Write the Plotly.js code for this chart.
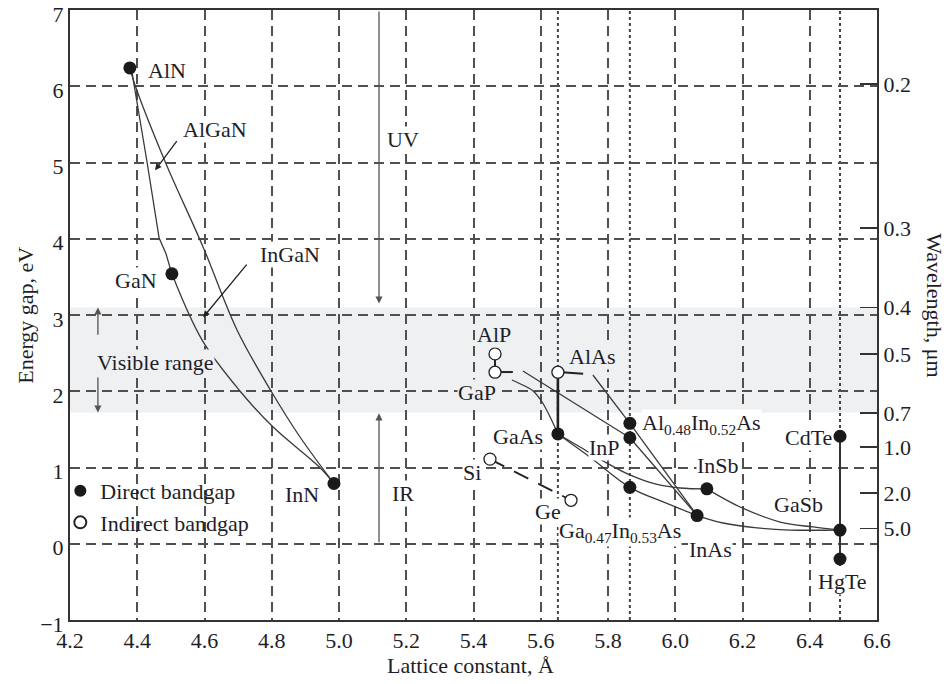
<!DOCTYPE html>
<html><head><meta charset="utf-8">
<script src="https://cdn.plot.ly/plotly-3.0.1.min.js"></script>
<style>body{margin:0;background:#fff}#chart{width:946px;height:684px}</style>
</head><body><div id="chart"></div>
<script>
// ---- data (lattice constant in Å, energy gap in eV) ----
const directNames = ['AlN','GaN','InN','GaAs','Al0.48In0.52As','InP','Ga0.47In0.53As','InAs','InSb','CdTe','GaSb','HgTe'];
const directA = [4.378, 4.503, 4.985, 5.651, 5.865, 5.865, 5.865, 6.065, 6.094, 6.490, 6.490, 6.490];
const directE = [6.24, 3.54, 0.79, 1.44, 1.58, 1.39, 0.74, 0.37, 0.72, 1.41, 0.18, -0.20];

const indirectNames = ['AlP','GaP','AlAs','Si','Ge'];
const indirectA = [5.464, 5.464, 5.651, 5.449, 5.690];
const indirectE = [2.49, 2.25, 2.25, 1.11, 0.57];

// alloy curves
const alganA = [4.378, 4.384, 4.429, 4.465, 4.485, 4.503];
const alganE = [6.24, 6.19, 5.01, 4.01, 3.81, 3.54];
const alinnA = [4.378, 4.393, 4.483, 4.596, 4.697, 4.801, 4.884, 4.985];
const alinnE = [6.24, 6.02, 5.01, 3.89, 2.80, 1.98, 1.40, 0.79];
const inganA = [4.503, 4.593, 4.706, 4.804, 4.943, 4.985];
const inganE = [3.54, 2.67, 2.00, 1.53, 1.00, 0.79];
const gapInpA = [5.547, 5.865];
const gapInpE = [2.266, 1.39];
const gapGaasA = [5.514, 5.574, 5.604, 5.628, 5.651];
const gapGaasE = [2.148, 2.016, 1.859, 1.662, 1.44];
const alasAlinasA = [5.755, 5.865];
const alasAlinasE = [2.213, 1.58];
const alinasInasA = [5.865, 6.065];
const alinasInasE = [1.58, 0.37];
const inpInasA = [5.865, 6.065];
const inpInasE = [1.39, 0.37];
const gaasInsbA = [5.651, 5.717, 5.791, 5.865, 5.940, 6.014, 6.094];
const gaasInsbE = [1.44, 1.269, 1.072, 0.902, 0.784, 0.731, 0.72];
const gaasInasA = [5.651, 5.746, 5.865, 5.964, 6.065];
const gaasInasE = [1.44, 1.138, 0.74, 0.548, 0.37];
const insbGasbA = [6.094, 6.193, 6.312, 6.410, 6.490];
const insbGasbE = [0.72, 0.482, 0.285, 0.22, 0.18];
const inasGasbA = [6.065, 6.142, 6.243, 6.341, 6.490];
const inasGasbE = [0.37, 0.272, 0.207, 0.18, 0.18];
const cdteHgteA = [6.490, 6.490];
const cdteHgteE = [1.41, -0.20];
const alasGaasA = [5.651, 5.651];
const alasGaasE = [2.25, 1.44];
const alpGapA = [5.464, 5.464];
const alpGapE = [2.49, 2.25];
const gapStubA = [5.464, 5.517];
const gapStubE = [2.252, 2.252];
const alasStubA = [5.651, 5.726];
const alasStubE = [2.253, 2.23];
const siGeA = [5.449, 5.690];
const siGeE = [1.11, 0.57];

// reference lattice constants (dotted verticals) and visible band
const refLattice = [5.651, 5.865, 6.490];
const visibleBand = [1.72, 3.10];

// right axis: wavelength labels and the energies where they sit
const waveLabels = ['0.2','0.3','0.4','0.5','0.7','1.0','2.0','5.0'];
const waveE = [6.03, 4.14, 3.10, 2.49, 1.715, 1.27, 0.665, 0.20];

// ---- drawing ----
const FONT = 'Liberation Serif, Times New Roman, serif';
const INK = '#1e1e28';
const FS = 22;
const BAND = '#eef0f2';
function curve(a, e, opt) {
  opt = opt || {};
  return {type:'scatter', mode:'lines', x:a, y:e, showlegend:false, hoverinfo:'skip',
    line:{color: opt.color || '#3a3a3a', width: opt.width || 1.3, shape: opt.shape || 'linear',
          smoothing: opt.smoothing === undefined ? 1 : opt.smoothing, dash: opt.dash || 'solid'}};
}
const traces = [
  curve(alganA, alganE),
  curve(alinnA, alinnE, {shape:'spline'}),
  curve(inganA, inganE, {shape:'spline'}),
  curve(gapInpA, gapInpE),
  curve(gapGaasA, gapGaasE, {shape:'spline', smoothing:0.6}),
  curve(alasAlinasA, alasAlinasE),
  curve(alinasInasA, alinasInasE),
  curve(inpInasA, inpInasE),
  curve(gaasInsbA, gaasInsbE, {shape:'spline'}),
  curve(gaasInasA, gaasInasE, {shape:'spline'}),
  curve(insbGasbA, insbGasbE, {shape:'spline'}),
  curve(inasGasbA, inasGasbE, {shape:'spline'}),
  curve(cdteHgteA, cdteHgteE, {width:2, color:'#333'}),
  curve(alasGaasA, alasGaasE, {width:2.6, color:'#222'}),
  curve(alpGapA, alpGapE, {width:2, color:'#222'}),
  curve(gapStubA, gapStubE, {width:2, color:'#222'}),
  curve(alasStubA, alasStubE, {width:2, color:'#222'}),
  curve(siGeA, siGeE, {width:1.8, color:'#222', dash:'16px,11px'}),
  {type:'scatter', mode:'markers', name:'Direct bandgap', x:directA, y:directE, text:directNames,
   hoverinfo:'text', marker:{size:13, color:'#1a1a1a', symbol:'circle'}},
  {type:'scatter', mode:'markers', name:'Indirect bandgap', x:indirectA, y:indirectE, text:indirectNames,
   hoverinfo:'text', marker:{size:12, color:'#ffffff', symbol:'circle', line:{color:'#222', width:1.3}}},
  {type:'scatter', mode:'markers', x:[null], y:[null], yaxis:'y2', showlegend:false, hoverinfo:'skip'}
];

const shapes = [
  {type:'rect', xref:'paper', x0:0, x1:1, yref:'y', y0:visibleBand[0], y1:visibleBand[1],
   fillcolor:BAND, line:{width:0}, layer:'below'}
];
refLattice.forEach(a => shapes.push({type:'line', xref:'x', x0:a, x1:a, yref:'y', y0:-1, y1:7,
  line:{color:'#444', width:2, dash:'dot'}, layer:'below'}));

function lab(text, x, y, extra) {
  return Object.assign({text:text, x:x, y:y, xref:'x', yref:'y', showarrow:false,
    xanchor:'center', yanchor:'middle', bgcolor:'#ffffff', borderpad:0,
    font:{family:FONT, size:FS, color:INK}}, extra || {});
}
function arrow(x, y, ax, ay, color, size) {
  return {text:'', x:x, y:y, ax:ax, ay:ay, xref:'x', yref:'y', axref:'x', ayref:'y',
    showarrow:true, arrowhead:2, arrowsize:size || 1.1, arrowwidth:1.3, arrowcolor:color || '#555'};
}
const inBand = {bgcolor:BAND};
const annotations = [
  lab('AlN', 4.488, 6.21),
  lab('AlGaN', 4.631, 5.43),
  lab('InGaN', 4.854, 3.79),
  lab('GaN', 4.396, 3.45),
  lab('Visible range', 4.453, 2.38, inBand),
  lab('InN', 4.890, 0.65),
  lab('UV', 5.190, 5.30),
  lab('IR', 5.190, 0.665),
  lab('AlP', 5.461, 2.75, inBand),
  lab('GaP', 5.410, 1.99, inBand),
  lab('AlAs', 5.752, 2.45, inBand),
  lab('GaAs', 5.532, 1.41),
  lab('Si', 5.396, 0.93),
  lab('Ge', 5.621, 0.42),
  lab('InP', 5.791, 1.26),
  lab('Al<sub>0.48</sub>In<sub>0.52</sub>As', 5.898, 1.57, {xanchor:'left'}),
  lab('Ga<sub>0.47</sub>In<sub>0.53</sub>As', 5.836, 0.15),
  lab('CdTe', 6.395, 1.40),
  lab('InSb', 6.127, 1.02),
  lab('GaSb', 6.368, 0.51),
  lab('InAs', 6.106, -0.08),
  lab('HgTe', 6.496, -0.49),
  // arrows
  arrow(5.119, 3.15, 5.119, 7.0),
  arrow(5.119, 1.71, 5.119, 0.0),
  arrow(4.283, 3.10, 4.283, 2.72),
  arrow(4.283, 1.72, 4.283, 2.20),
  arrow(4.453, 4.90, 4.521, 5.30, '#222', 1.0),
  arrow(4.596, 2.97, 4.729, 3.68, '#222', 1.0),
  // axis titles
  {text:'Energy gap, eV', xref:'paper', yref:'paper', x:-0.056, y:0.50, textangle:-90, showarrow:false,
   xanchor:'center', yanchor:'middle', font:{family:FONT, size:FS, color:INK}},
  {text:'Wavelength, μm', xref:'paper', yref:'paper', x:1.072, y:0.516, textangle:90, showarrow:false,
   xanchor:'center', yanchor:'middle', font:{family:FONT, size:FS, color:INK}},
  {text:'Lattice constant, Å', xref:'paper', yref:'paper', x:0.4957, y:-0.0738, showarrow:false,
   xanchor:'center', yanchor:'middle', font:{family:FONT, size:FS, color:INK}}
];

const gridStyle = {showgrid:true, gridcolor:'#505050', gridwidth:2, griddash:'10px,6px', zeroline:false,
  showline:true, linecolor:'#333', linewidth:2, ticks:'', ticklabeloverflow:'allow',
  tickfont:{family:FONT, size:FS, color:INK}};

const layout = {
  width:946, height:684,
  margin:{l:70, r:69, t:10, b:64},
  paper_bgcolor:'#fff', plot_bgcolor:'#fff',
  font:{family:FONT, size:FS, color:INK},
  xaxis:Object.assign({}, gridStyle, {range:[4.2, 6.6], dtick:0.2, tick0:4.2, tickformat:'.1f', mirror:true}),
  yaxis:Object.assign({}, gridStyle, {range:[-1, 7], dtick:1, ticklabelshift:4}),
  yaxis2:{overlaying:'y', side:'right', range:[-1, 7], tickvals:waveE, ticktext:waveLabels,
    ticks:'inside', ticklen:17, tickwidth:1.5, tickcolor:'#333', showgrid:false, zeroline:false,
    showline:true, linecolor:'#333', linewidth:2, ticklabeloverflow:'allow',
    tickfont:{family:FONT, size:FS, color:INK}},
  showlegend:true,
  legend:{x:-0.012, y:0.246, xanchor:'left', yanchor:'top', bgcolor:'rgba(0,0,0,0)',
    font:{family:FONT, size:FS, color:INK}, tracegroupgap:0, itemsizing:'constant'},
  shapes:shapes,
  annotations:annotations
};

Plotly.newPlot('chart', traces, layout, {displayModeBar:false, staticPlot:true});
</script>
</body></html>
